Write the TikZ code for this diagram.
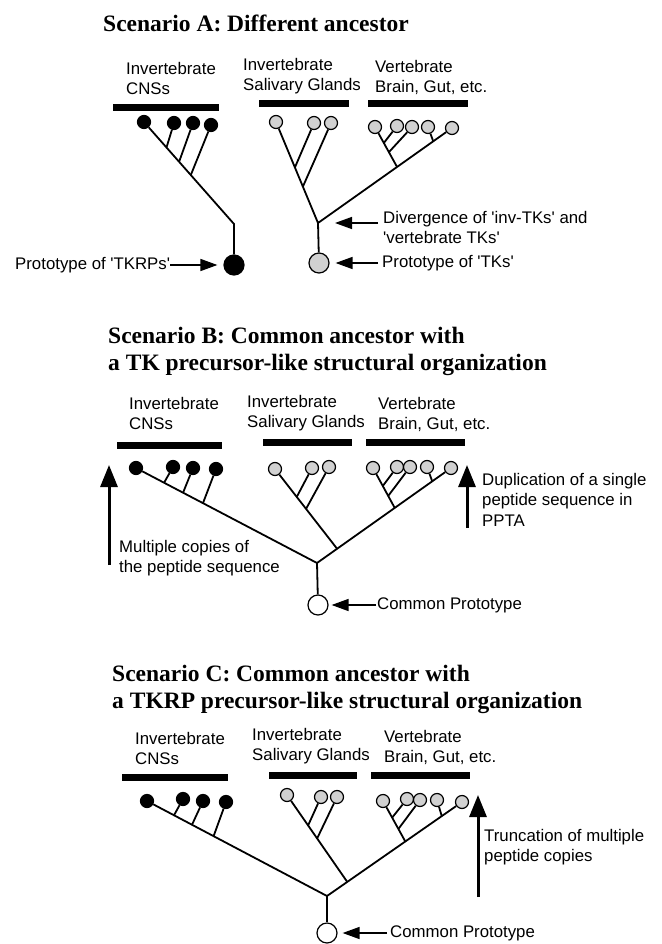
\documentclass[tikz,border=0pt]{standalone}
\usepackage{fontspec}
\setmainfont{Liberation Serif}
\setsansfont{Liberation Sans}
\usetikzlibrary{arrows.meta,calc}

\newcommand{\ttlfont}{\fontsize{23.5}{27}\selectfont\bfseries}
\newcommand{\lblfont}{\sffamily\fontsize{16.8}{20.5}\selectfont}
\newcommand{\sq}{\textquotesingle}
\definecolor{tkgray}{gray}{0.82}

\begin{document}
\begin{tikzpicture}[x=1pt,y=-1pt,
    heading/.style={font=\ttlfont, align=left, anchor=north west, inner sep=0pt},
    grouplabel/.style={font=\lblfont, align=left, anchor=north west, inner sep=0pt},
    notetext/.style={font=\lblfont, align=left, inner sep=0pt},
    clade/.style={line width=7pt},
    twig/.style={line width=1.8pt},
    tkrp/.style={circle, draw, fill=black, line width=1.2pt, inner sep=0pt, minimum size=13pt},
    tk/.style={circle, draw, fill=tkgray, line width=1.2pt, inner sep=0pt, minimum size=13pt},
    proto/.style={circle, draw, fill=white, line width=1.2pt, inner sep=0pt, minimum size=20pt},
    pointer/.style={-{Triangle[length=17pt,width=12pt]}, line width=1.5pt},
    uparrow/.style={-{Triangle[length=22pt,width=17pt]}, line width=3pt}]

    \useasboundingbox (0,0) rectangle (661,944);

    % Scenario A: headings and group bars
    \node[heading] (ttlA) at (103,15) {Scenario A: Different ancestor};
    \node[grouplabel] (cnsA) at (126,62) {Invertebrate\\CNSs};
    \node[grouplabel] (salA) at (243,58) {Invertebrate\\Salivary Glands};
    \node[grouplabel] (verA) at (375,60) {Vertebrate\\Brain, Gut, etc.};
    \draw[clade] (113,107.5) -- (219,107.5);
    \draw[clade] (259,104) -- (349,104);
    \draw[clade] (368,104) -- (468,104);

    % Scenario A: TKRP lineage
    \foreach \n/\x/\y in {1/144/122, 2/174/123, 3/193/123, 4/211/125}
        \node[tkrp] (aR\n) at (\x,\y) {};
    \coordinate (aBend) at (234,224);
    \node[tkrp, minimum size=20pt] (aRoot) at (234,265) {};
    \draw[twig] (aR1) -- (aBend) -- (aRoot);
    \foreach \n/\t in {2/0.25, 3/0.39, 4/0.52}
        \draw[twig] (aR\n) -- ($(aR1)!\t!(aBend)$);

    % Scenario A: TK lineage
    \foreach \n/\x/\y in {1/276/122, 2/314/123, 3/331/123}
        \node[tk] (aS\n) at (\x,\y) {};
    \foreach \n/\x/\y in {1/375/127, 2/397/126, 3/412/127, 4/428/127, 5/452/128}
        \node[tk] (aV\n) at (\x,\y) {};
    \coordinate (aJ) at (318,223);
    \node[tk, minimum size=20pt] (aRootTK) at (319,263) {};
    \draw[twig] (aS1) -- (aJ) -- (aV5);
    \draw[twig] (aJ) -- (aRootTK);
    \foreach \n/\t in {2/0.45, 3/0.64}
        \draw[twig] (aS\n) -- ($(aS1)!\t!(aJ)$);
    \coordinate (aVK) at ($(aJ)!0.59!(aV5)$);
    \draw[twig] (aV1) -- (aVK);
    \foreach \n/\t in {2/0.4, 3/0.63}
        \draw[twig] (aV\n) -- ($(aV1)!\t!(aVK)$);
    \draw[twig] (aV4) -- ($(aJ)!0.86!(aV5)$);

    % Scenario A: annotations
    \node[notetext, anchor=west] (protoR) at (15,265) {Prototype of \sq TKRPs\sq};
    \draw[pointer, shorten >=6pt] (protoR) -- (aRoot);
    \node[notetext, anchor=north west] (divA) at (383,211) {Divergence of \sq inv-TKs\sq{} and\\\sq vertebrate TKs\sq};
    \draw[pointer, shorten <=5pt, shorten >=17pt] (divA.west |- aJ) -- (aJ);
    \node[notetext, anchor=west] (protoT) at (382,263) {Prototype of \sq TKs\sq};
    \draw[pointer, shorten <=4pt, shorten >=6pt] (protoT) -- (aRootTK);

    % Scenario B: headings and group bars
    \node[heading] (ttlB) at (108,327) {Scenario B: Common ancestor with\\a TK precursor-like structural organization};
    \node[grouplabel] (cnsB) at (129,397) {Invertebrate\\CNSs};
    \node[grouplabel] (salB) at (247,395) {Invertebrate\\Salivary Glands};
    \node[grouplabel] (verB) at (378,397) {Vertebrate\\Brain, Gut, etc.};
    \draw[clade] (117,445) -- (222,445);
    \draw[clade] (263,442) -- (352,442);
    \draw[clade] (366,442) -- (465,442);

    % Scenario B: tree from one common prototype
    \foreach \n/\x/\y in {1/136/468, 2/173/467, 3/193/468, 4/216/469}
        \node[tkrp] (bR\n) at (\x,\y) {};
    \foreach \n/\x/\y in {1/275/469, 2/312/468, 3/329/467}
        \node[tk] (bS\n) at (\x,\y) {};
    \foreach \n/\x/\y in {1/373/468, 2/397/467, 3/410/467, 4/427/467, 5/451/468}
        \node[tk] (bV\n) at (\x,\y) {};
    \coordinate (bJ) at (317,563);
    \node[proto] (bRoot) at (318,605) {};
    \draw[twig] (bR1) -- (bJ) -- (bV5);
    \draw[twig] (bJ) -- (bRoot);
    \foreach \n/\t in {2/0.155, 3/0.26, 4/0.37}
        \draw[twig] (bR\n) -- ($(bR1)!\t!(bJ)$);
    \coordinate (bSK) at ($(bJ)!0.15!(bV5)$);
    \draw[twig] (bS1) -- (bSK);
    \foreach \n/\t in {2/0.35, 3/0.5}
        \draw[twig] (bS\n) -- ($(bS1)!\t!(bSK)$);
    \coordinate (bVK) at ($(bJ)!0.58!(bV5)$);
    \draw[twig] (bV1) -- (bVK);
    \foreach \n/\t in {2/0.45, 3/0.7}
        \draw[twig] (bV\n) -- ($(bV1)!\t!(bVK)$);
    \draw[twig] (bV4) -- ($(bJ)!0.86!(bV5)$);

    % Scenario B: annotations
    \coordinate (bLow1) at (109,565);
    \coordinate (bTop1) at (109,465);
    \draw[uparrow] (bLow1) -- (bTop1);
    \node[notetext, anchor=north west] (multB) at (119,540) {Multiple copies of\\the peptide sequence};
    \coordinate (bLow2) at (467,528);
    \coordinate (bTop2) at (467,465);
    \draw[uparrow] (bLow2) -- (bTop2);
    \node[notetext, anchor=north west] (dupB) at (482,473) {Duplication of a single\\peptide sequence in\\PPTA};
    \node[notetext, anchor=west] (protoB) at (377,605) {Common Prototype};
    \draw[pointer, shorten <=1pt, shorten >=3pt] (protoB) -- (bRoot);

    % Scenario C: headings and group bars
    \node[heading] (ttlC) at (112,665) {Scenario C: Common ancestor with\\a TKRP precursor-like structural organization};
    \node[grouplabel] (cnsC) at (135,732) {Invertebrate\\CNSs};
    \node[grouplabel] (salC) at (252,728) {Invertebrate\\Salivary Glands};
    \node[grouplabel] (verC) at (384,730) {Vertebrate\\Brain, Gut, etc.};
    \draw[clade] (122,777.5) -- (228,777.5);
    \draw[clade] (269,775) -- (357,775);
    \draw[clade] (371,775) -- (470,775);

    % Scenario C: tree from one common prototype
    \foreach \n/\x/\y in {1/147/801, 2/183/799, 3/203/801, 4/226/802}
        \node[tkrp] (cR\n) at (\x,\y) {};
    \foreach \n/\x/\y in {1/287/795, 2/321/797, 3/337/797}
        \node[tk] (cS\n) at (\x,\y) {};
    \foreach \n/\x/\y in {1/383/801, 2/407/799, 3/420/800, 4/437/800, 5/462/802}
        \node[tk] (cV\n) at (\x,\y) {};
    \coordinate (cJ) at (327,896);
    \node[proto] (cRoot) at (327,933) {};
    \draw[twig] (cR1) -- (cJ) -- (cV5);
    \draw[twig] (cJ) -- (cRoot);
    \foreach \n/\t in {2/0.15, 3/0.25, 4/0.37}
        \draw[twig] (cR\n) -- ($(cR1)!\t!(cJ)$);
    \coordinate (cSK) at ($(cJ)!0.15!(cV5)$);
    \draw[twig] (cS1) -- (cSK);
    \foreach \n/\t in {2/0.35, 3/0.5}
        \draw[twig] (cS\n) -- ($(cS1)!\t!(cSK)$);
    \coordinate (cVK) at ($(cJ)!0.58!(cV5)$);
    \draw[twig] (cV1) -- (cVK);
    \foreach \n/\t in {2/0.41, 3/0.69}
        \draw[twig] (cV\n) -- ($(cV1)!\t!(cVK)$);
    \draw[twig] (cV4) -- ($(cJ)!0.85!(cV5)$);

    % Scenario C: annotations
    \coordinate (cLow) at (478,897);
    \coordinate (cTop) at (478,795);
    \draw[uparrow] (cLow) -- (cTop);
    \node[notetext, anchor=north west] (truncC) at (484,829) {Truncation of multiple\\peptide copies};
    \node[notetext, anchor=west] (protoC) at (390,933) {Common Prototype};
    \draw[pointer, shorten <=3pt, shorten >=5pt] (protoC) -- (cRoot);

\end{tikzpicture}
\end{document}
